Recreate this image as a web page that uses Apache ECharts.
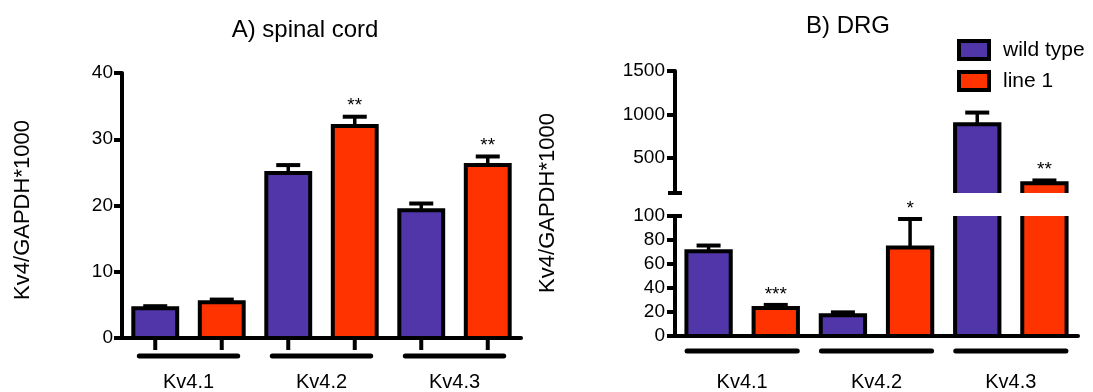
<!DOCTYPE html>
<html>
<head>
<meta charset="utf-8">
<script src="https://cdn.jsdelivr.net/npm/echarts@6/dist/echarts.min.js"></script>
<style>
  html, body { margin: 0; padding: 0; background: #fff; }
  #chart { width: 1093px; height: 392px; }
</style>
</head>
<body>
<div id="chart"></div>
<script>
// ---- data ----------------------------------------------------------------
const categories = ['Kv4.1', 'Kv4.2', 'Kv4.3'];
const groupNames = ['wild type', 'line 1'];
const yAxisTitle = 'Kv4/GAPDH*1000';

// A) spinal cord: mean and SEM
const spinalWildType = [4.5, 24.9, 19.3];
const spinalWildTypeSem = [0.3, 1.2, 1.0];
const spinalLine1 = [5.4, 32.0, 26.1];
const spinalLine1Sem = [0.4, 1.4, 1.3];
const spinalLine1Sig = ['', '**', '**'];

// B) DRG: mean and SEM
const drgWildType = [70.7, 17.2, 890];
const drgWildTypeSem = [4.7, 2.5, 133];
const drgLine1 = [23.4, 73.8, 212];
const drgLine1Sem = [2.5, 23.7, 32];
const drgLine1Sig = ['***', '*', '**'];

// axis ranges
const spinalMax = 40, spinalStep = 10;
const drgLowerMax = 100, drgLowerStep = 20;
const drgBreak = 100, drgUpperMax = 1500;
const drgUpperTicks = [500, 1000, 1500];

// ---- styling ---------------------------------------------------------------
const FONT = '"Liberation Sans", Arial, Helvetica, sans-serif';
const WT_COLOR = '#5036A8';
const L1_COLOR = '#FF3300';
const INK = '#000';

function rows(values, sem) {
  return values.map((v, i) => [i, v, sem[i]]);
}

function seg(x1, y1, x2, y2, w, cap) {
  return { type: 'line', shape: { x1, y1, x2, y2 },
           style: { stroke: INK, lineWidth: w, lineCap: cap || 'butt' } };
}

// Prism-style bar: outlined box, upward SEM whisker, optional star label,
// tick under the bar and a grouping line under each category.
function barRenderer(opt) {
  return function (params, api) {
    const ci = api.value(0), v = api.value(1), e = api.value(2);
    const cs = params.coordSys;
    const band = api.size([1, 0])[0];
    const gx = api.coord([ci, v])[0];
    const cx = gx + opt.side * band * 0.25;
    const w = band * 0.33, l = cx - w / 2, r = cx + w / 2;
    const yBottom = cs.y + cs.height;
    const children = [];

    if (opt.xTicks) children.push(seg(cx, yBottom, cx, yBottom + 12, 4));
    if (opt.groupLine) {
      const gy = yBottom + opt.groupLine.dy;
      children.push(seg(gx - band * opt.groupLine.frac, gy, gx + band * opt.groupLine.frac, gy, 5, 'round'));
    }
    if (opt.floor != null && v <= opt.floor) return { type: 'group', children };

    let yTop = api.coord([ci, v])[1];
    const topOpen = yTop < cs.y;
    if (topOpen) yTop = cs.y;
    const bottomOpen = opt.floor != null;

    let capY = yTop;
    if (!topOpen && e > 0) {
      capY = api.coord([ci, v + e])[1];
      children.push(seg(cx, yTop, cx, capY, 3.5));
      children.push(seg(cx - 12, capY, cx + 12, capY, 4));
    }

    if (!topOpen && !bottomOpen) {
      children.push({ type: 'rect', shape: { x: l, y: yTop, width: w, height: yBottom - yTop },
                      style: { fill: opt.color, stroke: INK, lineWidth: 4 } });
    } else {
      children.push({ type: 'rect', shape: { x: l, y: yTop, width: w, height: yBottom - yTop },
                      style: { fill: opt.color } });
      const pts = topOpen
        ? [[l, yTop], [l, yBottom], [r, yBottom], [r, yTop]]
        : [[l, yBottom], [l, yTop], [r, yTop], [r, yBottom]];
      children.push({ type: 'polyline', shape: { points: pts },
                      style: { stroke: INK, lineWidth: 4, fill: null, lineJoin: 'miter' } });
    }

    if (opt.sig && opt.sig[ci] && !topOpen) {
      children.push({ type: 'text', x: cx, y: capY - 1,
                      style: { text: opt.sig[ci], font: '19px ' + FONT, fill: INK,
                               align: 'center', verticalAlign: 'bottom' } });
    }
    return { type: 'group', children };
  };
}

// short marks across the axis where the DRG scale is broken
function breakRenderer(params, api) {
  const cs = params.coordSys;
  const y = api.coord([0, api.value(1)])[1];
  return seg(cs.x - 7, y, cs.x + 7, y, 4);
}

const plainNumber = v => String(v);
const axisLine = { show: true, lineStyle: { color: INK, width: 4 } };
const tickStyle = { show: true, length: 8, lineStyle: { color: INK, width: 4 } };
const valueLabel = { color: INK, fontSize: 19, fontFamily: FONT, margin: 9, formatter: plainNumber };
const catLabel = { color: INK, fontSize: 20, fontFamily: FONT, margin: 34 };

const option = {
  animation: false,
  backgroundColor: '#fff',
  title: [
    { text: 'A) spinal cord', left: 305, top: 18, textAlign: 'center', padding: 0,
      textStyle: { fontSize: 24, fontWeight: 'normal', color: INK, fontFamily: FONT } },
    { text: 'B) DRG', left: 848, top: 14, textAlign: 'center', padding: 0,
      textStyle: { fontSize: 24, fontWeight: 'normal', color: INK, fontFamily: FONT } }
  ],
  legend: {
    orient: 'vertical', left: 957, top: 39, padding: 0,
    itemWidth: 30, itemHeight: 18, itemGap: 9, selectedMode: false,
    textStyle: { fontSize: 21, color: INK, fontFamily: FONT, padding: [0, 0, 0, 9] },
    data: [
      { name: groupNames[0], icon: 'rect', itemStyle: { color: WT_COLOR, borderColor: INK, borderWidth: 4 } },
      { name: groupNames[1], icon: 'rect', itemStyle: { color: L1_COLOR, borderColor: INK, borderWidth: 4 } }
    ]
  },
  grid: [
    { left: 122, top: 73, width: 399, height: 265 },
    { left: 675, top: 71, width: 403, height: 122 },
    { left: 675, top: 216, width: 403, height: 122 }
  ],
  xAxis: [
    { gridIndex: 0, type: 'category', data: categories, axisLine,
      axisTick: { show: false }, axisLabel: catLabel },
    { gridIndex: 1, type: 'category', data: categories, show: false },
    { gridIndex: 2, type: 'category', data: categories, axisLine,
      axisTick: { show: false }, axisLabel: Object.assign({}, catLabel, { margin: 36 }) }
  ],
  yAxis: [
    { gridIndex: 0, type: 'value', min: 0, max: spinalMax, interval: spinalStep,
      axisLine, axisTick: tickStyle, axisLabel: valueLabel, splitLine: { show: false } },
    { gridIndex: 1, type: 'value', min: drgBreak, max: drgUpperMax,
      axisLine, axisTick: Object.assign({}, tickStyle, { customValues: drgUpperTicks }),
      axisLabel: Object.assign({}, valueLabel, { customValues: drgUpperTicks, margin: 10 }),
      splitLine: { show: false } },
    { gridIndex: 2, type: 'value', min: 0, max: drgLowerMax, interval: drgLowerStep,
      axisLine, axisTick: tickStyle, axisLabel: Object.assign({}, valueLabel, { margin: 10 }),
      splitLine: { show: false } }
  ],
  graphic: [
    { type: 'text', x: 23, y: 210, rotation: Math.PI / 2,
      style: { text: yAxisTitle, font: '22px ' + FONT, fill: INK, align: 'center', verticalAlign: 'middle' } },
    { type: 'text', x: 548, y: 203, rotation: Math.PI / 2,
      style: { text: yAxisTitle, font: '22px ' + FONT, fill: INK, align: 'center', verticalAlign: 'middle' } }
  ],
  series: [
    { type: 'custom', name: groupNames[0], xAxisIndex: 0, yAxisIndex: 0,
      encode: { x: 0, y: 1 }, data: rows(spinalWildType, spinalWildTypeSem),
      renderItem: barRenderer({ side: -1, color: WT_COLOR, xTicks: true, groupLine: { frac: 0.37, dy: 18 } }) },
    { type: 'custom', name: groupNames[1], xAxisIndex: 0, yAxisIndex: 0,
      encode: { x: 0, y: 1 }, data: rows(spinalLine1, spinalLine1Sem),
      renderItem: barRenderer({ side: 1, color: L1_COLOR, xTicks: true, sig: spinalLine1Sig }) },

    { type: 'custom', name: groupNames[0], xAxisIndex: 2, yAxisIndex: 2,
      encode: { x: 0, y: 1 }, data: rows(drgWildType, drgWildTypeSem),
      renderItem: barRenderer({ side: -1, color: WT_COLOR, groupLine: { frac: 0.41, dy: 15 } }) },
    { type: 'custom', name: groupNames[1], xAxisIndex: 2, yAxisIndex: 2,
      encode: { x: 0, y: 1 }, data: rows(drgLine1, drgLine1Sem),
      renderItem: barRenderer({ side: 1, color: L1_COLOR, sig: drgLine1Sig }) },

    { type: 'custom', name: groupNames[0], xAxisIndex: 1, yAxisIndex: 1,
      encode: { x: 0, y: 1 }, data: rows(drgWildType, drgWildTypeSem),
      renderItem: barRenderer({ side: -1, color: WT_COLOR, floor: drgBreak }) },
    { type: 'custom', name: groupNames[1], xAxisIndex: 1, yAxisIndex: 1,
      encode: { x: 0, y: 1 }, data: rows(drgLine1, drgLine1Sem),
      renderItem: barRenderer({ side: 1, color: L1_COLOR, floor: drgBreak, sig: drgLine1Sig }) },

    { type: 'custom', xAxisIndex: 1, yAxisIndex: 1, encode: { x: 0, y: 1 },
      data: [[0, drgBreak]], renderItem: breakRenderer },
    { type: 'custom', xAxisIndex: 2, yAxisIndex: 2, encode: { x: 0, y: 1 },
      data: [[0, drgBreak]], renderItem: breakRenderer }
  ]
};

const chart = echarts.init(document.getElementById('chart'), null, { renderer: 'canvas' });
chart.setOption(option);
</script>
</body>
</html>
